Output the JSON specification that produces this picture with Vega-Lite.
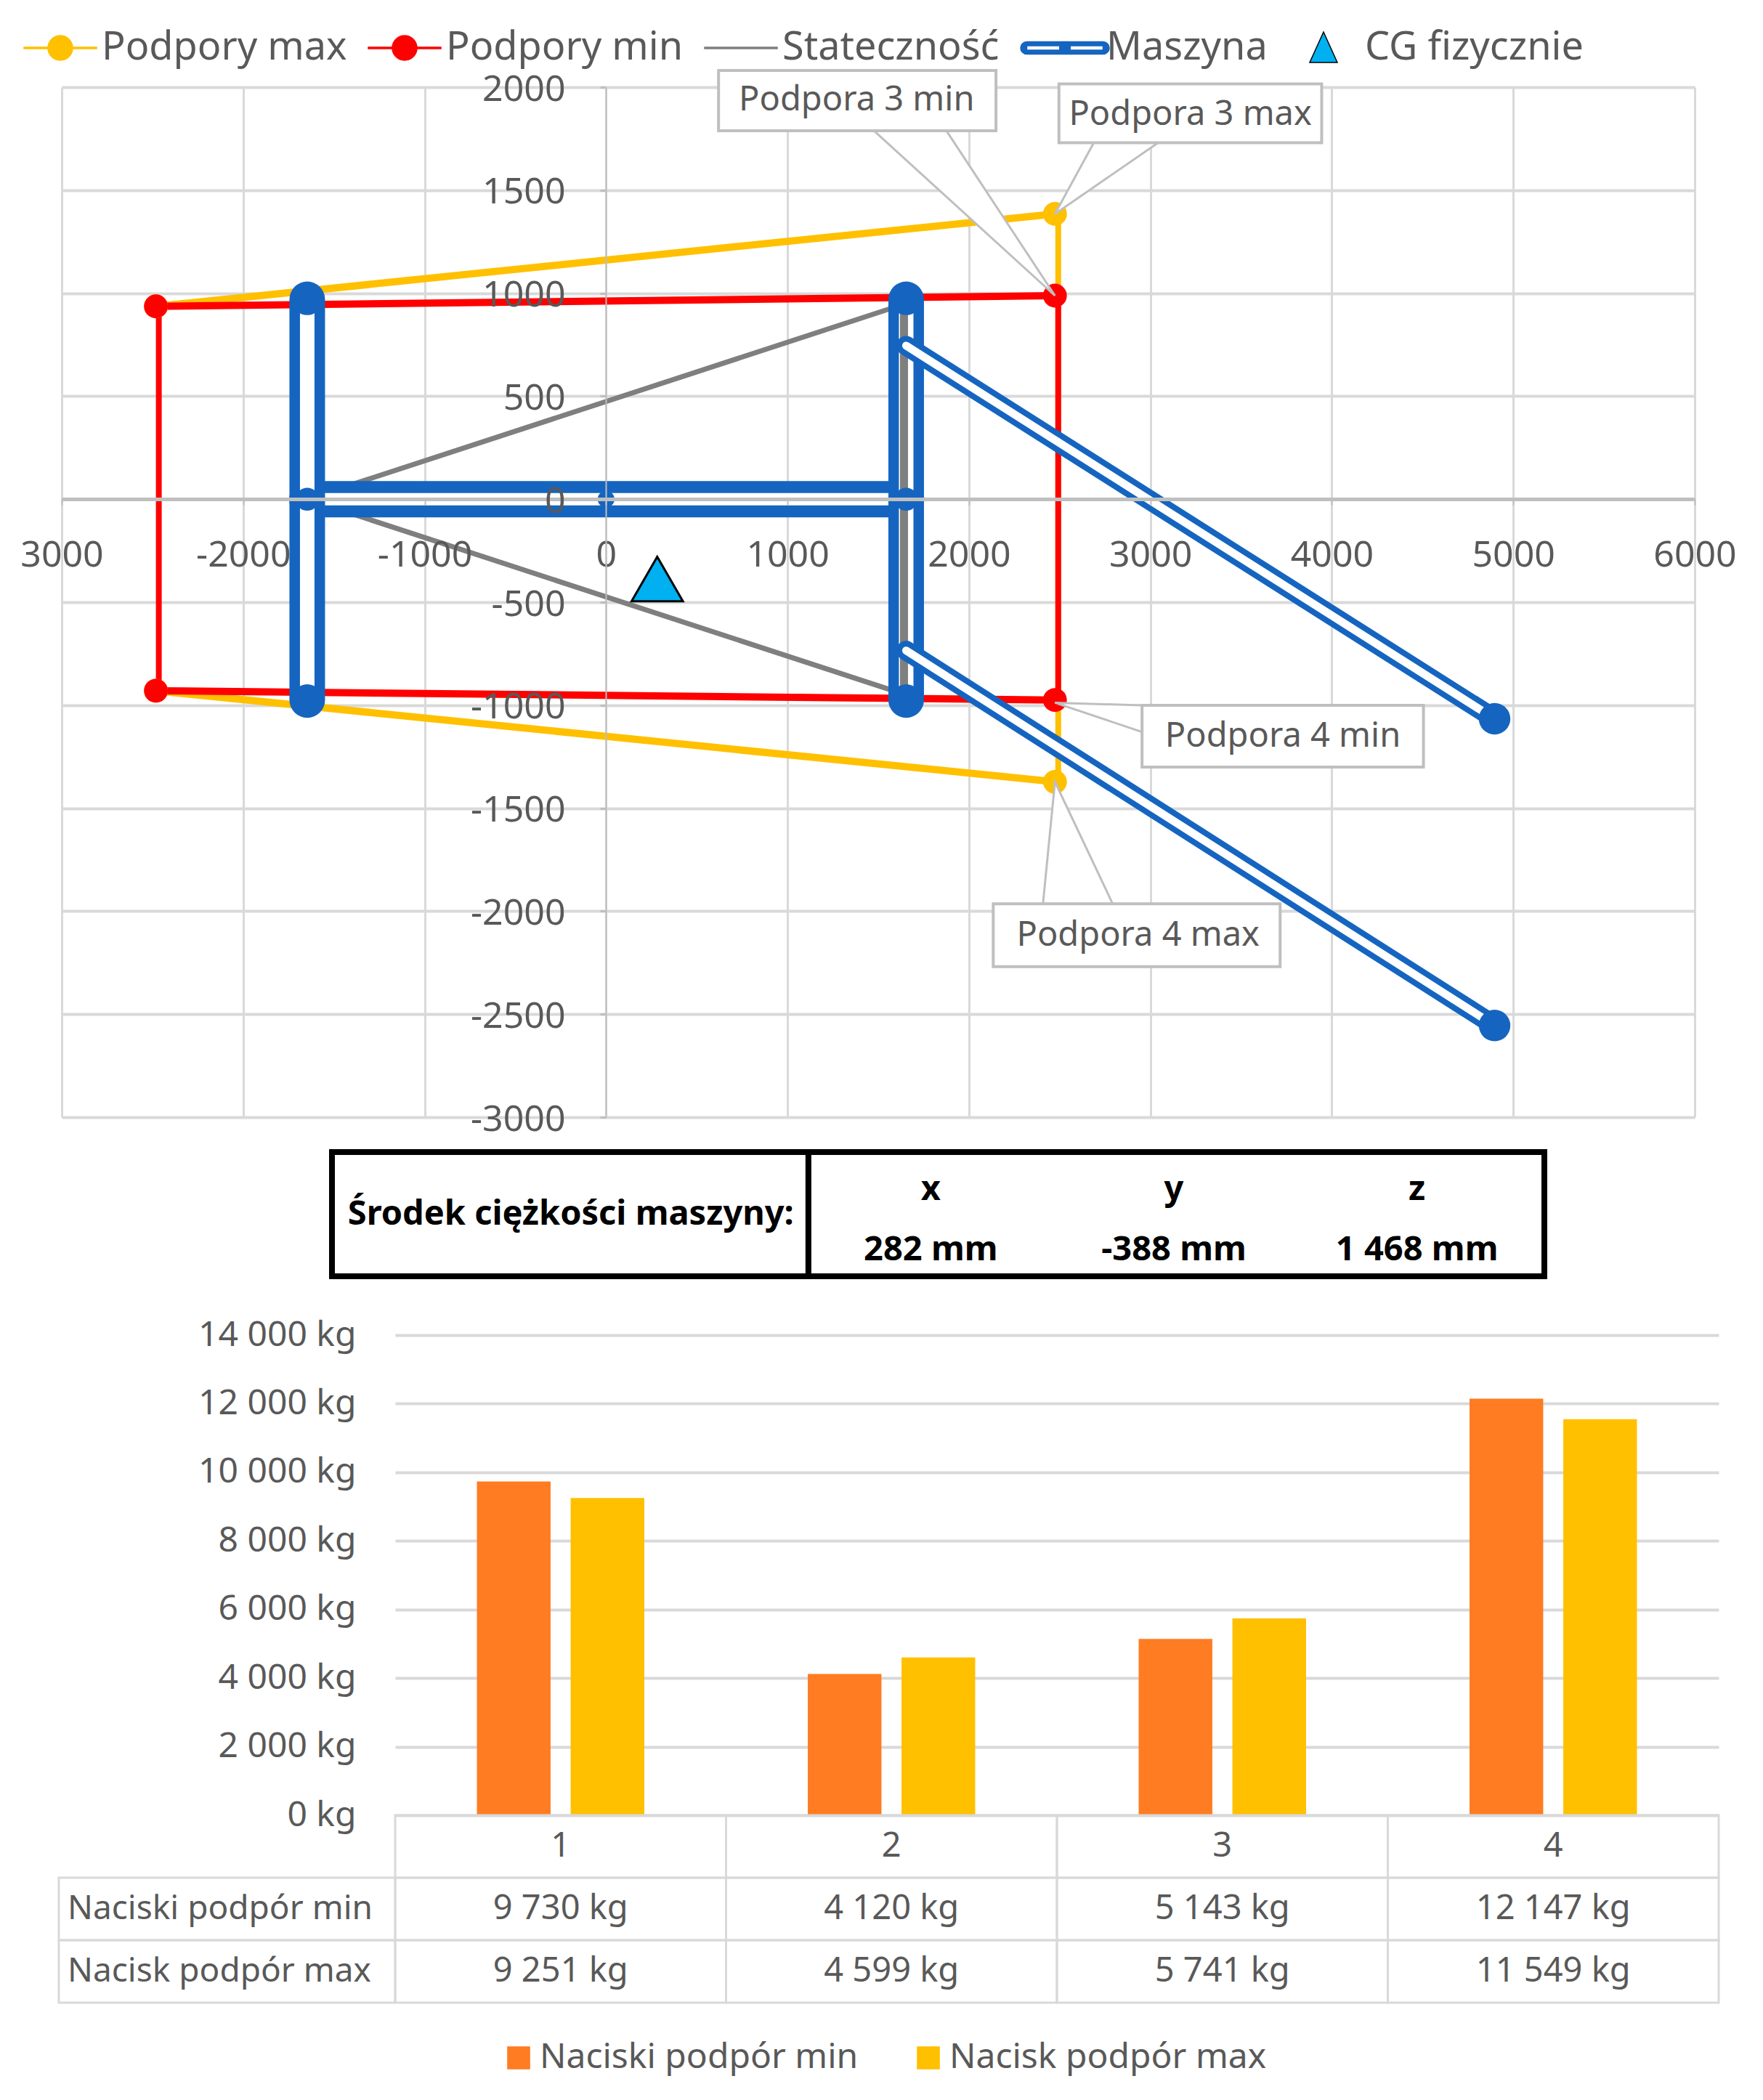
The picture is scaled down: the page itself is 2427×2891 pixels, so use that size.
{
  "$schema": "https://vega.github.io/schema/vega-lite/v6.json",
  "width": 2427,
  "height": 2891,
  "autosize": {"type": "none"},
  "padding": 0,
  "background": "white",
  "config": {
    "view": {"stroke": null},
    "font": "Noto Sans",
    "text": {"font": "Noto Sans", "color": "#595959"},
    "axis": {"labelFont": "Noto Sans", "labelColor": "#595959", "title": null},
    "legend": {"labelFont": "Noto Sans", "labelColor": "#595959"}
  },
  "datasets": {
    "podpory": [
      {"seria": "Podpory max", "odcinek": "gora", "kolejnosc": 1, "grubosc": "poziomy", "x": -2481, "y": 936},
      {"seria": "Podpory max", "odcinek": "gora", "kolejnosc": 2, "grubosc": "poziomy", "x": 2474, "y": 1385},
      {"seria": "Podpory max", "odcinek": "dol", "kolejnosc": 1, "grubosc": "poziomy", "x": 2474, "y": -1372},
      {"seria": "Podpory max", "odcinek": "dol", "kolejnosc": 2, "grubosc": "poziomy", "x": -2481, "y": -930},
      {"seria": "Podpory min", "odcinek": "gora", "kolejnosc": 1, "grubosc": "poziomy", "x": -2481, "y": 936},
      {"seria": "Podpory min", "odcinek": "gora", "kolejnosc": 2, "grubosc": "poziomy", "x": 2474, "y": 988},
      {"seria": "Podpory min", "odcinek": "dol", "kolejnosc": 1, "grubosc": "poziomy", "x": 2474, "y": -975},
      {"seria": "Podpory min", "odcinek": "dol", "kolejnosc": 2, "grubosc": "poziomy", "x": -2481, "y": -930}
    ],
    "boki": [
      {"seria": "Podpory max", "odcinek": "prawa", "kolejnosc": 1, "x": 2492, "y": 1385},
      {"seria": "Podpory max", "odcinek": "prawa", "kolejnosc": 2, "x": 2492, "y": -1372},
      {"seria": "Podpory min", "odcinek": "prawa", "kolejnosc": 1, "x": 2492, "y": 988},
      {"seria": "Podpory min", "odcinek": "prawa", "kolejnosc": 2, "x": 2492, "y": -975},
      {"seria": "Podpory min", "odcinek": "lewa", "kolejnosc": 1, "x": -2465, "y": -930},
      {"seria": "Podpory min", "odcinek": "lewa", "kolejnosc": 2, "x": -2465, "y": 936}
    ],
    "statecznosc": [
      {"odcinek": "gora", "rodzaj": "ramie", "kolejnosc": 1, "x": -1647, "y": 0},
      {"odcinek": "gora", "rodzaj": "ramie", "kolejnosc": 2, "x": 1654, "y": 950},
      {"odcinek": "dol", "rodzaj": "ramie", "kolejnosc": 1, "x": -1647, "y": 0},
      {"odcinek": "dol", "rodzaj": "ramie", "kolejnosc": 2, "x": 1654, "y": -950},
      {"odcinek": "slupek", "rodzaj": "slupek", "kolejnosc": 1, "x": 1642, "y": 950},
      {"odcinek": "slupek", "rodzaj": "slupek", "kolejnosc": 2, "x": 1642, "y": -950}
    ],
    "maszyna": [
      {"odcinek": "srodek", "rodzaj": "poziom", "kolejnosc": 1, "x": -1647, "y": 0},
      {"odcinek": "srodek", "rodzaj": "poziom", "kolejnosc": 2, "x": 1654, "y": 0},
      {"odcinek": "lewy", "rodzaj": "pion", "kolejnosc": 1, "x": -1647, "y": 970},
      {"odcinek": "lewy", "rodzaj": "pion", "kolejnosc": 2, "x": -1647, "y": -975},
      {"odcinek": "prawy", "rodzaj": "pion", "kolejnosc": 1, "x": 1654, "y": 970},
      {"odcinek": "prawy", "rodzaj": "pion", "kolejnosc": 2, "x": 1654, "y": -975},
      {"odcinek": "skos1", "rodzaj": "skos", "kolejnosc": 1, "x": 1654, "y": 745},
      {"odcinek": "skos1", "rodzaj": "skos", "kolejnosc": 2, "x": 4897, "y": -1066},
      {"odcinek": "skos2", "rodzaj": "skos", "kolejnosc": 1, "x": 1654, "y": -735},
      {"odcinek": "skos2", "rodzaj": "skos", "kolejnosc": 2, "x": 4897, "y": -2555}
    ],
    "wezly": [
      {"rodzaj": "duzy", "x": -1647, "y": 970},
      {"rodzaj": "duzy", "x": -1647, "y": -975},
      {"rodzaj": "duzy", "x": 1654, "y": 970},
      {"rodzaj": "duzy", "x": 1654, "y": -975},
      {"rodzaj": "duzy", "x": 4897, "y": -1066},
      {"rodzaj": "duzy", "x": 4897, "y": -2555},
      {"rodzaj": "sredni", "x": -1647, "y": 0},
      {"rodzaj": "sredni", "x": 1654, "y": 0},
      {"rodzaj": "maly", "x": 0, "y": 0}
    ],
    "dymki_kliny": [
      {"dymek": "3 min", "kolejnosc": 1, "x": 1477, "y": 1788},
      {"dymek": "3 min", "kolejnosc": 2, "x": 2474, "y": 988},
      {"dymek": "3 min", "kolejnosc": 3, "x": 1876, "y": 1788},
      {"dymek": "3 max", "kolejnosc": 1, "x": 2688, "y": 1730},
      {"dymek": "3 max", "kolejnosc": 2, "x": 2474, "y": 1385},
      {"dymek": "3 max", "kolejnosc": 3, "x": 3043, "y": 1730},
      {"dymek": "4 min", "kolejnosc": 1, "x": 2954, "y": -1001},
      {"dymek": "4 min", "kolejnosc": 2, "x": 2474, "y": -988},
      {"dymek": "4 min", "kolejnosc": 3, "x": 2954, "y": -1130},
      {"dymek": "4 max", "kolejnosc": 1, "x": 2408, "y": -1964},
      {"dymek": "4 max", "kolejnosc": 2, "x": 2474, "y": -1372},
      {"dymek": "4 max", "kolejnosc": 3, "x": 2792, "y": -1964}
    ],
    "dymki_ramki": [
      {"x": 620, "x2": 2149, "y": 2081, "y2": 1788},
      {"x": 2496, "x2": 3944, "y": 2016, "y2": 1730},
      {"x": 2954, "x2": 4505, "y": -1001, "y2": -1300},
      {"x": 2134, "x2": 3715, "y": -1964, "y2": -2269}
    ],
    "dymki_teksty": [
      {"x": 1381, "y": 1938, "tekst": "Podpora 3 min"},
      {"x": 3220, "y": 1866, "tekst": "Podpora 3 max"},
      {"x": 3730, "y": -1151, "tekst": "Podpora 4 min"},
      {"x": 2932, "y": -2120, "tekst": "Podpora 4 max"}
    ],
    "naciski": [
      {"podpora": "1", "seria": "Naciski podpór min", "wartosc": 9730},
      {"podpora": "1", "seria": "Nacisk podpór max", "wartosc": 9251},
      {"podpora": "2", "seria": "Naciski podpór min", "wartosc": 4120},
      {"podpora": "2", "seria": "Nacisk podpór max", "wartosc": 4599},
      {"podpora": "3", "seria": "Naciski podpór min", "wartosc": 5143},
      {"podpora": "3", "seria": "Nacisk podpór max", "wartosc": 5741},
      {"podpora": "4", "seria": "Naciski podpór min", "wartosc": 12147},
      {"podpora": "4", "seria": "Nacisk podpór max", "wartosc": 11549}
    ],
    "tabela": [
      {"podpora": "1", "wiersz": "nr", "tekst": "1"},
      {"podpora": "2", "wiersz": "nr", "tekst": "2"},
      {"podpora": "3", "wiersz": "nr", "tekst": "3"},
      {"podpora": "4", "wiersz": "nr", "tekst": "4"},
      {"podpora": "1", "wiersz": "Naciski podpór min", "tekst": "9 730 kg"},
      {"podpora": "2", "wiersz": "Naciski podpór min", "tekst": "4 120 kg"},
      {"podpora": "3", "wiersz": "Naciski podpór min", "tekst": "5 143 kg"},
      {"podpora": "4", "wiersz": "Naciski podpór min", "tekst": "12 147 kg"},
      {"podpora": "1", "wiersz": "Nacisk podpór max", "tekst": "9 251 kg"},
      {"podpora": "2", "wiersz": "Nacisk podpór max", "tekst": "4 599 kg"},
      {"podpora": "3", "wiersz": "Nacisk podpór max", "tekst": "5 741 kg"},
      {"podpora": "4", "wiersz": "Nacisk podpór max", "tekst": "11 549 kg"}
    ],
    "tabela_naglowki": [
      {"kolumna": "opis", "wiersz": "Naciski podpór min", "tekst": "Naciski podpór min"},
      {"kolumna": "opis", "wiersz": "Nacisk podpór max", "tekst": "Nacisk podpór max"}
    ],
    "srodek_ramki": [
      {"x": 0, "x2": 0.393, "y": 0, "y2": 1},
      {"x": 0.393, "x2": 1, "y": 0, "y2": 1}
    ],
    "srodek_wartosci": [
      {"os": "x", "wiersz": "nazwa", "tekst": "x"},
      {"os": "y", "wiersz": "nazwa", "tekst": "y"},
      {"os": "z", "wiersz": "nazwa", "tekst": "z"},
      {"os": "x", "wiersz": "wartosc", "tekst": "282 mm"},
      {"os": "y", "wiersz": "wartosc", "tekst": "-388 mm"},
      {"os": "z", "wiersz": "wartosc", "tekst": "1 468 mm"}
    ]
  },
  "resolve": {
    "scale": {"x": "independent", "y": "independent", "color": "independent", "fill": "independent", "stroke": "independent", "shape": "independent", "strokeWidth": "independent"},
    "axis": {"x": "independent", "y": "independent"}
  },
  "layer": [
    {
      "data": {"values": [{"x": 0, "y": 0}]},
      "mark": {"type": "point", "opacity": 0},
      "encoding": {
        "x": {
          "field": "x", "type": "quantitative",
          "scale": {"domain": [-3000, 6000], "range": [85, 2333], "nice": false, "zero": false},
          "axis": {"orient": "top", "values": [-3000, -2000, -1000, 0, 1000, 2000, 3000, 4000, 5000, 6000], "labels": false, "ticks": false, "domain": false, "grid": true, "gridColor": "#D9D9D9", "gridWidth": 3}
        },
        "y": {
          "field": "y", "type": "quantitative",
          "scale": {"domain": [-3000, 2000], "range": [1538, 120], "nice": false, "zero": false},
          "axis": {"orient": "left", "values": [-3000, -2500, -2000, -1500, -1000, -500, 0, 500, 1000, 1500, 2000], "labels": false, "ticks": false, "domain": false, "grid": true, "gridColor": "#D9D9D9", "gridWidth": 4}
        }
      }
    },
    {
      "encoding": {
        "x": {
          "field": "x", "type": "quantitative",
          "scale": {"domain": [-3000, 6000], "range": [85, 2333], "nice": false, "zero": false},
          "axis": {
            "orient": "bottom", "offset": -2204, "zindex": 1, "grid": false,
            "values": [-3000, -2000, -1000, 0, 1000, 2000, 3000, 4000, 5000, 6000],
            "labelExpr": "datum.value == -3000 ? '3000' : toString(datum.value)",
            "labelFontSize": 50, "labelPadding": 44, "labelBound": false, "labelFlush": false, "labelOverlap": false,
            "domainColor": "#BFBFBF", "domainWidth": 5, "tickColor": "#BFBFBF", "tickSize": 8, "tickWidth": 2
          }
        },
        "y": {
          "field": "y", "type": "quantitative",
          "scale": {"domain": [-3000, 2000], "range": [1538, 120], "nice": false, "zero": false},
          "axis": {
            "orient": "left", "offset": -834, "zindex": 1, "grid": false,
            "values": [-3000, -2500, -2000, -1500, -1000, -500, 0, 500, 1000, 1500, 2000],
            "labelExpr": "toString(datum.value)",
            "labelFontSize": 50, "labelPadding": 48, "labelOffset": 3, "labelBound": false, "labelFlush": false, "labelOverlap": false,
            "domainColor": "#BFBFBF", "domainWidth": 2, "tickColor": "#BFBFBF", "tickSize": 8, "tickWidth": 3
          }
        }
      },
      "layer": [
        {
          "data": {"name": "podpory"},
          "transform": [{"filter": "datum.seria == 'Podpory max'"}],
          "mark": {"type": "line", "color": "#FFC000", "strokeWidth": 10},
          "encoding": {"detail": {"field": "odcinek"}, "order": {"field": "kolejnosc"}}
        },
        {
          "data": {"name": "boki"},
          "transform": [{"filter": "datum.seria == 'Podpory max'"}],
          "mark": {"type": "line", "color": "#FFC000", "strokeWidth": 8},
          "encoding": {"detail": {"field": "odcinek"}, "order": {"field": "kolejnosc"}}
        },
        {
          "data": {"name": "podpory"},
          "transform": [{"filter": "datum.seria == 'Podpory min'"}],
          "mark": {"type": "line", "color": "#FF0000", "strokeWidth": 10},
          "encoding": {"detail": {"field": "odcinek"}, "order": {"field": "kolejnosc"}}
        },
        {
          "data": {"name": "boki"},
          "transform": [{"filter": "datum.seria == 'Podpory min'"}],
          "mark": {"type": "line", "color": "#FF0000", "strokeWidth": 8},
          "encoding": {"detail": {"field": "odcinek"}, "order": {"field": "kolejnosc"}}
        },
        {
          "data": {"name": "statecznosc"},
          "transform": [{"filter": "datum.rodzaj == 'ramie'"}],
          "mark": {"type": "line", "color": "#7F7F7F", "strokeWidth": 7},
          "encoding": {"detail": {"field": "odcinek"}, "order": {"field": "kolejnosc"}}
        },
        {
          "data": {"name": "maszyna"},
          "transform": [{"filter": "datum.rodzaj == 'poziom'"}],
          "mark": {"type": "line", "color": "#1565C0", "strokeWidth": 50, "strokeCap": "round"},
          "encoding": {"detail": {"field": "odcinek"}, "order": {"field": "kolejnosc"}}
        },
        {
          "data": {"name": "maszyna"},
          "transform": [{"filter": "datum.rodzaj == 'poziom'"}],
          "mark": {"type": "line", "color": "white", "strokeWidth": 17, "strokeCap": "round"},
          "encoding": {"detail": {"field": "odcinek"}, "order": {"field": "kolejnosc"}}
        },
        {
          "data": {"name": "maszyna"},
          "transform": [{"filter": "datum.rodzaj == 'pion'"}],
          "mark": {"type": "line", "color": "#1565C0", "strokeWidth": 49, "strokeCap": "round"},
          "encoding": {"detail": {"field": "odcinek"}, "order": {"field": "kolejnosc"}}
        },
        {
          "data": {"name": "maszyna"},
          "transform": [{"filter": "datum.rodzaj == 'pion'"}],
          "mark": {"type": "line", "color": "white", "strokeWidth": 20, "strokeCap": "round"},
          "encoding": {"detail": {"field": "odcinek"}, "order": {"field": "kolejnosc"}}
        },
        {
          "data": {"name": "statecznosc"},
          "transform": [{"filter": "datum.rodzaj == 'slupek'"}],
          "mark": {"type": "line", "color": "#7F7F7F", "strokeWidth": 11},
          "encoding": {"detail": {"field": "odcinek"}, "order": {"field": "kolejnosc"}}
        },
        {
          "data": {"name": "maszyna"},
          "transform": [{"filter": "datum.rodzaj == 'skos'"}],
          "mark": {"type": "line", "color": "#1565C0", "strokeWidth": 27, "strokeCap": "round"},
          "encoding": {"detail": {"field": "odcinek"}, "order": {"field": "kolejnosc"}}
        },
        {
          "data": {"name": "maszyna"},
          "transform": [{"filter": "datum.rodzaj == 'skos'"}],
          "mark": {"type": "line", "color": "white", "strokeWidth": 11, "strokeCap": "round"},
          "encoding": {"detail": {"field": "odcinek"}, "order": {"field": "kolejnosc"}}
        },
        {
          "data": {"name": "wezly"},
          "transform": [{"filter": "datum.rodzaj == 'duzy'"}],
          "mark": {"type": "point", "shape": "circle", "filled": true, "opacity": 1, "color": "#1565C0", "size": 1885}
        },
        {
          "data": {"name": "wezly"},
          "transform": [{"filter": "datum.rodzaj == 'sredni'"}],
          "mark": {"type": "point", "shape": "circle", "filled": true, "opacity": 1, "color": "#1565C0", "size": 1000}
        },
        {
          "data": {"name": "wezly"},
          "transform": [{"filter": "datum.rodzaj == 'maly'"}],
          "mark": {"type": "point", "shape": "circle", "filled": true, "opacity": 1, "color": "#1565C0", "size": 530}
        },
        {
          "data": {"name": "podpory"},
          "transform": [{"filter": "datum.seria == 'Podpory max'"}],
          "mark": {"type": "point", "shape": "circle", "filled": true, "opacity": 1, "color": "#FFC000", "size": 1075}
        },
        {
          "data": {"name": "podpory"},
          "transform": [{"filter": "datum.seria == 'Podpory min'"}],
          "mark": {"type": "point", "shape": "circle", "filled": true, "opacity": 1, "color": "#FF0000", "size": 1075}
        },
        {
          "data": {"values": [{"x": 282, "y": -388}]},
          "mark": {"type": "point", "shape": "triangle-up", "filled": true, "opacity": 1, "fill": "#00B0F0", "stroke": "black", "strokeWidth": 3, "size": 5000}
        },
        {
          "data": {"name": "dymki_kliny"},
          "mark": {"type": "line", "interpolate": "linear-closed", "fill": "white", "stroke": "#BFBFBF", "strokeWidth": 3},
          "encoding": {
            "detail": {"field": "dymek", "type": "nominal"},
            "order": {"field": "kolejnosc", "type": "quantitative"}
          }
        },
        {
          "data": {"name": "dymki_ramki"},
          "mark": {"type": "rect", "fill": "white", "stroke": "#BFBFBF", "strokeWidth": 4},
          "encoding": {"x2": {"field": "x2"}, "y2": {"field": "y2"}}
        },
        {
          "data": {"name": "dymki_teksty"},
          "mark": {"type": "text", "fontSize": 47, "align": "center", "baseline": "middle"},
          "encoding": {"text": {"field": "tekst"}}
        }
      ]
    },
    {
      "data": {"values": [
        {"seria": "Podpory max"},
        {"seria": "Podpory min"},
        {"seria": "Stateczność"},
        {"seria": "Maszyna"},
        {"seria": "CG fizycznie"}
      ]},
      "mark": {"type": "point", "filled": true, "opacity": 0, "strokeWidth": 3},
      "encoding": {
        "fill": {
          "field": "seria", "type": "nominal",
          "scale": {"domain": ["Podpory max", "Podpory min", "Stateczność", "Maszyna", "CG fizycznie"], "range": ["#FFC000", "#FF0000", "#7F7F7F", "#1565C0", "#00B0F0"]},
          "legend": {"orient": "none", "legendX": 32, "legendY": 15, "title": null, "direction": "horizontal", "columns": 5, "gridAlign": "none", "symbolSize": 10000, "symbolOpacity": 1, "labelFontSize": 54, "labelLimit": 800, "labelOffset": 6, "columnPadding": 26}
        },
        "stroke": {
          "field": "seria", "type": "nominal",
          "scale": {"domain": ["Podpory max", "Podpory min", "Stateczność", "Maszyna", "CG fizycznie"], "range": ["#FFC000", "#FF0000", "#7F7F7F", "#1565C0", "#000000"]},
          "legend": {"orient": "none", "legendX": 32, "legendY": 15, "title": null, "direction": "horizontal", "columns": 5, "gridAlign": "none", "symbolSize": 10000, "symbolOpacity": 1, "labelFontSize": 54, "labelLimit": 800, "labelOffset": 6, "columnPadding": 26}
        },
        "shape": {
          "field": "seria", "type": "nominal",
          "scale": {
            "domain": ["Podpory max", "Podpory min", "Stateczność", "Maszyna", "CG fizycznie"],
            "range": [
              "M-1,-0.02H1V0.02H-1ZM0.34,0A0.34,0.34 0 1 1 -0.34,0A0.34,0.34 0 1 1 0.34,0Z",
              "M-1,-0.02H1V0.02H-1ZM0.34,0A0.34,0.34 0 1 1 -0.34,0A0.34,0.34 0 1 1 0.34,0Z",
              "M-1,-0.02H1V0.02H-1Z",
              "M-1.05,-0.17H1.05A0.17,0.17 0 0 1 1.05,0.17H-1.05A0.17,0.17 0 0 1 -1.05,-0.17ZM-1.05,-0.06V0.06H1.05V-0.06ZM0.15,0A0.15,0.15 0 1 1 -0.15,0A0.15,0.15 0 1 1 0.15,0Z",
              "M0,-0.44L0.38,0.4H-0.38Z"
            ]
          },
          "legend": {"orient": "none", "legendX": 32, "legendY": 15, "title": null, "direction": "horizontal", "columns": 5, "gridAlign": "none", "symbolSize": 10000, "symbolOpacity": 1, "labelFontSize": 54, "labelLimit": 800, "labelOffset": 6, "columnPadding": 26}
        }
      }
    },
    {
      "data": {"name": "srodek_ramki"},
      "mark": {"type": "rect", "fill": "white", "stroke": "black", "strokeWidth": 8},
      "encoding": {
        "x": {"field": "x", "type": "quantitative", "scale": {"domain": [0, 1], "range": [457, 2126], "nice": false, "zero": false}, "axis": null},
        "x2": {"field": "x2"},
        "y": {"field": "y", "type": "quantitative", "scale": {"domain": [0, 1], "range": [1586, 1757], "nice": false, "zero": false}, "axis": null},
        "y2": {"field": "y2"}
      }
    },
    {
      "data": {"values": [{"x": 0.197, "y": 0.5, "tekst": "Środek ciężkości maszyny:"}]},
      "mark": {"type": "text", "font": "Noto Sans", "fontWeight": "bold", "fontSize": 47, "color": "black", "align": "center", "baseline": "middle"},
      "encoding": {
        "x": {"field": "x", "type": "quantitative", "scale": {"domain": [0, 1], "range": [457, 2126], "nice": false, "zero": false}, "axis": null},
        "y": {"field": "y", "type": "quantitative", "scale": {"domain": [0, 1], "range": [1586, 1757], "nice": false, "zero": false}, "axis": null},
        "text": {"field": "tekst"}
      }
    },
    {
      "data": {"name": "srodek_wartosci"},
      "mark": {"type": "text", "font": "Noto Sans", "fontWeight": "bold", "fontSize": 47, "color": "black", "align": "center", "baseline": "middle"},
      "encoding": {
        "x": {"field": "os", "type": "nominal", "scale": {"type": "band", "domain": ["x", "y", "z"], "range": [1114, 2118], "padding": 0}, "axis": null},
        "y": {"field": "wiersz", "type": "nominal", "scale": {"type": "band", "domain": ["nazwa", "wartosc"], "range": [1596, 1762], "padding": 0}, "axis": null},
        "text": {"field": "tekst"}
      }
    },
    {
      "data": {"name": "naciski"},
      "mark": {"type": "bar"},
      "encoding": {
        "x": {"field": "podpora", "type": "nominal", "scale": {"domain": ["1", "2", "3", "4"], "range": [544, 2366], "padding": 0}, "axis": null},
        "xOffset": {"field": "seria", "type": "nominal", "scale": {"domain": ["Naciski podpór min", "Nacisk podpór max"], "paddingInner": 0.214, "paddingOuter": 0.872}},
        "y": {
          "field": "wartosc", "type": "quantitative",
          "scale": {"domain": [0, 14000], "range": [2499, 1838], "nice": false},
          "axis": {
            "orient": "left", "offset": -544, "values": [0, 2000, 4000, 6000, 8000, 10000, 12000, 14000],
            "labelExpr": "replace(format(datum.value, ','), ',', ' ') + ' kg'",
            "labelFontSize": 48, "labelPadding": 54, "labelBound": false, "labelFlush": false, "labelOverlap": false, "labelLimit": 500,
            "ticks": false, "domain": false, "grid": true, "gridColor": "#D9D9D9", "gridWidth": 4
          }
        },
        "color": {
          "field": "seria", "type": "nominal",
          "scale": {"domain": ["Naciski podpór min", "Nacisk podpór max"], "range": ["#FF7C22", "#FFC000"]},
          "legend": {"orient": "none", "legendX": 690, "legendY": 2809, "title": null, "direction": "horizontal", "columns": 2, "gridAlign": "none", "symbolType": "square", "symbolSize": 1000, "labelFontSize": 48, "labelLimit": 800, "columnPadding": 72, "labelOffset": 5}
        }
      }
    },
    {
      "data": {"name": "tabela"},
      "encoding": {
        "x": {"field": "podpora", "type": "nominal", "scale": {"type": "band", "domain": ["1", "2", "3", "4"], "range": [544, 2366], "padding": 0}, "axis": null},
        "y": {"field": "wiersz", "type": "nominal", "scale": {"type": "band", "domain": ["nr", "Naciski podpór min", "Nacisk podpór max"], "range": [2499, 2757], "padding": 0}, "axis": null}
      },
      "layer": [
        {"mark": {"type": "rect", "fill": "white", "fillOpacity": 0, "stroke": "#D9D9D9", "strokeWidth": 3}},
        {"mark": {"type": "text", "fontSize": 47, "align": "center", "baseline": "middle"}, "encoding": {"text": {"field": "tekst"}}}
      ]
    },
    {
      "data": {"name": "tabela_naglowki"},
      "encoding": {
        "x": {"field": "kolumna", "type": "nominal", "scale": {"type": "band", "domain": ["opis"], "range": [81, 544], "padding": 0}, "axis": null},
        "y": {"field": "wiersz", "type": "nominal", "scale": {"type": "band", "domain": ["nr", "Naciski podpór min", "Nacisk podpór max"], "range": [2499, 2757], "padding": 0}, "axis": null}
      },
      "layer": [
        {"mark": {"type": "rect", "fill": "white", "fillOpacity": 0, "stroke": "#D9D9D9", "strokeWidth": 3}},
        {
          "mark": {"type": "text", "fontSize": 46, "align": "left", "baseline": "middle", "dx": 12},
          "encoding": {"x": {"field": "kolumna", "type": "nominal", "bandPosition": 0, "scale": {"type": "band", "domain": ["opis"], "range": [81, 544], "padding": 0}, "axis": null}, "text": {"field": "tekst"}}
        }
      ]
    }
  ]
}
